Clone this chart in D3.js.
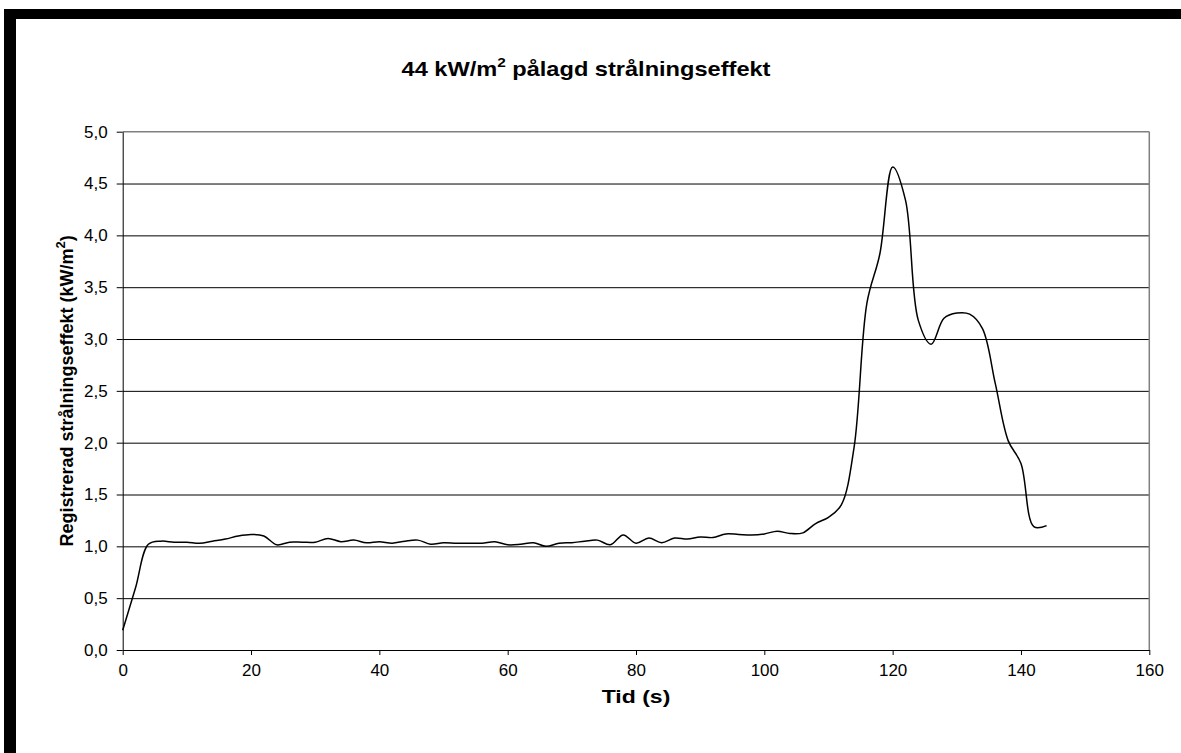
<!DOCTYPE html>
<meta charset="utf-8">
<style>
body {
  margin: 0;
  background: #ffffff;
}

svg {
  display: block;
}

text {
  font-family: 'Liberation Sans', Arial, sans-serif;
  fill: #000000;
}

text.title {
  font-size: 20px;
  font-weight: 700;
}

text.label {
  font-size: 18px;
  font-weight: 700;
}

.tick text {
  font-size: 17px;
}

.grid .tick line {
  stroke: #000000;
}

.grid path {
  stroke-width: 0;
}

.axis path, .axis line {
  stroke: #000000;
}

line.frame {
  stroke: #808080;
  stroke-width: 1.5;
}

path.series {
  fill: none;
  stroke: #000000;
  stroke-width: 1.5;
}
</style>
<body>
<svg width="1181" height="753"></svg>

<script src="https://d3js.org/d3.v7.min.js"></script>
<script>

    // time in seconds, sampled every 2 s
    const tid = [
      0, 2, 4, 6, 8, 10, 12, 14, 16, 18, 20, 22, 24, 26, 28, 30, 32, 34, 36, 38,
      40, 42, 44, 46, 48, 50, 52, 54, 56, 58, 60, 62, 64, 66, 68, 70, 72, 74, 76, 78,
      80, 82, 84, 86, 88, 90, 92, 94, 96, 98, 100, 102, 104, 106, 108, 110, 112, 114, 116, 118,
      120, 122, 124, 126, 128, 130, 132, 134, 136, 138, 140, 142, 144
    ]

    // registrerad strålningseffekt (kW/m2)
    const effekt = [
      0.19, 0.60, 1.02, 1.05, 1.04, 1.04, 1.03, 1.05, 1.07, 1.10, 1.115, 1.10, 1.015, 1.04, 1.04, 1.04, 1.076, 1.045, 1.06, 1.035,
      1.045, 1.03, 1.05, 1.06, 1.02, 1.035, 1.03, 1.03, 1.03, 1.045, 1.015, 1.02, 1.035, 1.0, 1.03, 1.035, 1.05, 1.06, 1.015, 1.11,
      1.03, 1.08, 1.035, 1.08, 1.07, 1.09, 1.085, 1.12, 1.115, 1.11, 1.12, 1.146, 1.124, 1.13, 1.22, 1.28, 1.40, 1.96, 3.35, 3.82,
      4.66, 4.34, 3.18, 2.95, 3.20, 3.25, 3.24, 3.10, 2.57, 2.02, 1.80, 1.19, 1.20
    ]

    const xTicks = [0, 20, 40, 60, 80, 100, 120, 140, 160]
    const yTicks = [0, 0.5, 1, 1.5, 2, 2.5, 3, 3.5, 4, 4.5, 5]

    const svg = d3.select('svg');

    const plotLeft = 122.7, plotRight = 1149.3, plotTop = 131.7, plotBottom = 650;

    const svLocale = d3.formatLocale({ decimal: ',', thousands: ' ', grouping: [3], currency: ['', ' kr'] });
    const yFormat = svLocale.format('.1f');

    // black frame strips (top and left)
    svg.append('rect').attr('x', 4).attr('y', 9).attr('width', 1177).attr('height', 10).attr('fill', '#000');
    svg.append('rect').attr('x', 4).attr('y', 9).attr('width', 12).attr('height', 744).attr('fill', '#000');

    const xScale = d3.scaleLinear()
      .domain([0, 160])
      .range([plotLeft, plotRight]);

    const yScale = d3.scaleLinear()
      .domain([0, 5])
      .range([plotBottom, plotTop]);

    // horizontal gridlines
    svg.append('g')
      .attr('class', 'grid')
      .attr('transform', `translate(${plotLeft}, 0)`)
      .call(d3.axisLeft(yScale)
        .tickValues(yTicks.filter(v => v > 0 && v < 5))
        .tickSize(-(plotRight - plotLeft))
        .tickFormat('')
      );

    // plot area border (top, right)
    svg.append('line').attr('class', 'frame')
      .attr('x1', plotLeft).attr('x2', plotRight).attr('y1', yScale(5)).attr('y2', yScale(5));
    svg.append('line').attr('class', 'frame')
      .attr('x1', plotRight).attr('x2', plotRight).attr('y1', yScale(5)).attr('y2', plotBottom);

    svg.append('g')
      .attr('class', 'axis')
      .attr('transform', `translate(0, ${plotBottom})`)
      .call(d3.axisBottom(xScale)
        .tickValues(xTicks)
        .tickSize(5)
        .tickPadding(9)
        .tickSizeOuter(0)
      );

    svg.append('g')
      .attr('class', 'axis')
      .attr('transform', `translate(${plotLeft}, 0)`)
      .call(d3.axisLeft(yScale)
        .tickValues(yTicks)
        .tickFormat(yFormat)
        .tickSize(6)
        .tickPadding(9)
        .tickSizeOuter(0)
      );

    svg.selectAll('.axis .domain').attr('stroke', '#000');

    const line = d3.line()
      .x((d, i) => xScale(tid[i]))
      .y((d) => yScale(d))
      .curve(d3.curveCatmullRom.alpha(0.5));

    svg.append('path')
      .datum(effekt)
      .attr('class', 'series')
      .attr('d', line);

    // title (the original is slightly widened)
    const title = svg.append('text')
      .attr('class', 'title')
      .attr('transform', 'translate(586, 76) scale(1.18, 1)')
      .attr('text-anchor', 'middle');
    title.append('tspan').text('44 kW/m');
    title.append('tspan').attr('font-size', '13px').attr('dy', -9).text('2');
    title.append('tspan').attr('dy', 9).text(' pålagd strålningseffekt');

    svg.append('text')
      .attr('class', 'label')
      .attr('transform', `translate(${(plotLeft + plotRight) / 2}, 703) scale(1.28, 1)`)
      .attr('text-anchor', 'middle')
      .text('Tid (s)');

    const ylab = svg.append('text')
      .attr('class', 'label')
      .attr('transform', `translate(73, ${(plotTop + plotBottom) / 2}) rotate(-90)`)
      .attr('text-anchor', 'middle');
    ylab.append('tspan').text('Registrerad strålningseffekt (kW/m');
    ylab.append('tspan').attr('font-size', '13px').attr('dy', -8).text('2');
    ylab.append('tspan').attr('dy', 8).text(')');

</script>
</body>
